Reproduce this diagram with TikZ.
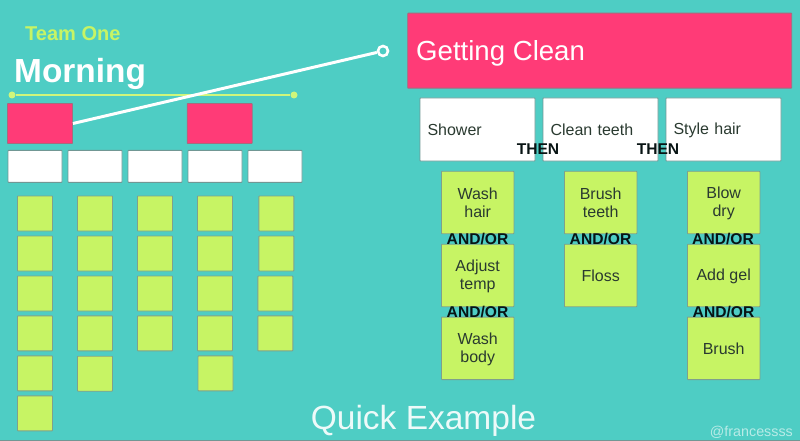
\documentclass[tikz,border=0pt]{standalone}
\usepackage{fontspec}
\setmainfont{Liberation Sans}
\definecolor{teal}{HTML}{4ECDC4}
\definecolor{pinkc}{HTML}{FF3B77}
\definecolor{lime}{HTML}{C7F464}
\definecolor{edgec}{HTML}{7FA08C}
\definecolor{inkc}{HTML}{2A3A30}
\newcommand{\evenline}[1]{\rule[-2pt]{0pt}{16pt}#1}
\tikzset{
  px/.style={x=1pt,y=-1pt},
  box/.style={draw=edgec,line width=0.9pt,rounded corners=0.6pt,inner sep=0pt,align=center,font=\fontsize{16}{18}\selectfont,text=inkc},
  pinkbox/.style={box,fill=pinkc,draw=gray!70!pinkc},
  whitebox/.style={box,fill=white,draw=gray!70!teal,minimum width=54pt,minimum height=32pt},
  bigwhite/.style={box,fill=white,draw=gray!70!teal,minimum width=115pt,minimum height=63pt,text width=100pt,align=left},
  sticky/.style={box,fill=lime,minimum width=35pt,minimum height=35pt},
  bigsticky/.style={box,fill=lime,minimum width=72.5pt,minimum height=62.5pt},
  joiner/.style={font=\fontsize{15.6}{16}\selectfont\bfseries,text=black!90!teal,inner sep=0pt},
  limedot/.style={circle,fill=lime!85!white,inner sep=0pt,minimum size=7pt},
  ring/.style={circle,draw=white,fill=teal,line width=2.6pt,inner sep=0pt,minimum size=10pt},
}
\begin{document}
\begin{tikzpicture}[px]
\fill[teal] (0,0) rectangle (800,441);
\useasboundingbox (0,0) rectangle (800,441);
\draw[gray!70!teal,line width=1pt] (0,440.5) -- (800,440.5);

\node[anchor=west,text=lime,font=\fontsize{20}{20}\selectfont\bfseries,inner sep=0pt] (team) at (25,33.7) {Team One};
\node[anchor=west,text=white,font=\fontsize{33.4}{33}\selectfont\bfseries,inner sep=0pt] (morning) at (14,74) {Morning};

\node[limedot] (d1) at (12,95) {};
\node[limedot] (d2) at (294,95) {};
\draw[lime!85!white,line width=1.4pt] (d1) -- (d2);

\node[pinkbox,minimum width=65pt,minimum height=40pt] (m1) at (40,123.5) {};
\node[pinkbox,minimum width=65pt,minimum height=40pt] (m2) at (219.7,123.5) {};

\node[whitebox] (w1) at (35,166.3) {};
\node[whitebox] (w2) at (95,166.3) {};
\node[whitebox] (w3) at (155,166.3) {};
\node[whitebox] (w4) at (215,166.3) {};
\node[whitebox] (w5) at (275,166.3) {};

% column 1
\node[sticky] (a1) at (35,213.5) {};
\node[sticky] (a2) at (35,253.5) {};
\node[sticky] (a3) at (35,293.5) {};
\node[sticky] (a4) at (35,333.3) {};
\node[sticky] (a5) at (35,373.3) {};
\node[sticky] (a6) at (35,413.3) {};
% column 2
\node[sticky] (b1) at (95,213.5) {};
\node[sticky] (b2) at (95,253.5) {};
\node[sticky] (b3) at (95,293.5) {};
\node[sticky] (b4) at (95,333.3) {};
\node[sticky] (b5) at (95,373.7) {};
% column 3
\node[sticky] (c1) at (155,213.5) {};
\node[sticky] (c2) at (155,253.5) {};
\node[sticky] (c3) at (155,293.5) {};
\node[sticky] (c4) at (155,333.3) {};
% column 4
\node[sticky] (e1) at (215,213.5) {};
\node[sticky] (e2) at (215,253.5) {};
\node[sticky] (e3) at (215,293.5) {};
\node[sticky] (e4) at (215,333.3) {};
\node[sticky] (e5) at (215.5,373.3) {};
% column 5
\node[sticky] (f1) at (276.3,213.5) {};
\node[sticky] (f2) at (276.3,253.5) {};
\node[sticky] (f3) at (275.3,293.5) {};
\node[sticky] (f4) at (275.3,333.3) {};

\node[pinkbox,minimum width=384pt,minimum height=75pt] (clean) at (599.7,50.7) {};
\node[anchor=west,text=white,font=\fontsize{27.6}{28}\selectfont,inner sep=0pt] (cleant) at (416,53.5) {Getting Clean};

\node[ring] (r) at (383,51) {};
\draw[white,line width=3pt] (m1.east) -- (r);

\node[bigwhite] (s1) at (477.5,129.5) {\evenline{Shower}};
\node[bigwhite] (s2) at (600.5,129.5) {\evenline{Clean teeth}};
\node[bigwhite] (s3) at (723.5,129.5) {\evenline{Style hair}};

\node[bigsticky] (g1) at (477.7,202.5) {\evenline{Wash}\\\evenline{hair}};
\node[bigsticky] (g2) at (477.7,275.5) {\evenline{Adjust}\\\evenline{temp}};
\node[bigsticky] (g3) at (477.7,348.3) {\evenline{Wash}\\\evenline{body}};
\node[bigsticky] (h1) at (600.7,202.5) {\evenline{Brush}\\\evenline{teeth}};
\node[bigsticky] (h2) at (600.7,275.5) {\evenline{Floss}};
\node[bigsticky] (k1) at (723.7,202.5) {\evenline{Blow}\\\evenline{dry}};
\node[bigsticky] (k2) at (723.7,275.5) {\evenline{Add gel}};
\node[bigsticky] (k3) at (723.7,348.3) {\evenline{Brush}};

\node[joiner] (t1) at (538,149) {THEN};
\node[joiner] (t2) at (658,149) {THEN};
\node[joiner] (o1) at (477.5,239) {AND/OR};
\node[joiner] (o2) at (600.5,239.5) {AND/OR};
\node[joiner] (o3) at (723,239) {AND/OR};
\node[joiner] (o4) at (477.5,312.5) {AND/OR};
\node[joiner] (o5) at (723.5,312.5) {AND/OR};

\node[text=white!90!teal,font=\fontsize{33.5}{34}\selectfont,inner sep=0pt] (title) at (423.5,421) {Quick Example};
\node[anchor=east,text=white!60!teal,font=\fontsize{14.3}{15}\selectfont,inner sep=0pt] (handle) at (793,432.5) {@francessss};
\end{tikzpicture}
\end{document}
